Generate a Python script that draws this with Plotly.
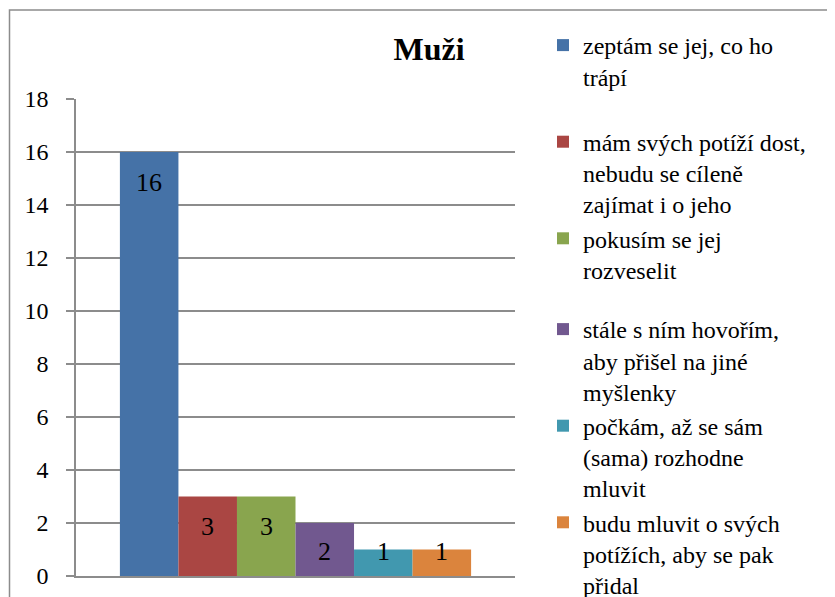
import plotly.graph_objects as go

categories = [
    "zeptám se jej, co ho<br>trápí",
    "mám svých potíží dost,<br>nebudu se cíleně<br>zajímat i o jeho",
    "pokusím se jej<br>rozveselit",
    "stále s ním hovořím,<br>aby přišel na jiné<br>myšlenky",
    "počkám, až se sám<br>(sama) rozhodne<br>mluvit",
    "budu mluvit o svých<br>potížích, aby se pak<br>přidal",
]
values = [16, 3, 3, 2, 1, 1]
colors = ["#4572A7", "#AA4643", "#89A54E", "#71588F", "#4198AF", "#DB843D"]
y_ticks = [0, 2, 4, 6, 8, 10, 12, 14, 16, 18]
title_text = "Muži"

FONT = "'Liberation Serif', 'Times New Roman', Times, serif"
W, H = 835, 597
OFF = 8  # page body margin offset
ML = 76 - OFF
MT = 99 - OFF
plot_w = 439
plot_h = 477
MR = W - ML - plot_w
MB = H - MT - plot_h
px_per_unit = plot_h / 18.0


def px_to_paper_x(px):
    return (px - OFF - ML) / plot_w


def px_to_paper_y(py):
    return (MT + plot_h - (py - OFF)) / plot_h


fig = go.Figure()
for i, (name, v, c) in enumerate(zip(categories, values, colors)):
    lines = name.count("<br>") + 1
    pad = 0 if i in (2, 5) else (3 - lines)
    label = name + "<br> " * pad
    fig.add_trace(go.Bar(
        x=[i], y=[v], width=1.0, name=label,
        marker=dict(color=c, line=dict(width=0)),
        legend="legend" if i < 3 else "legend2",
        hoverinfo="skip",
    ))
    # data label, "inside end" style like Excel
    shift = min(30, v * px_per_unit - 25)
    fig.add_annotation(
        x=i, y=v, yref="y", xref="x", text=str(v), showarrow=False,
        yshift=-shift, yanchor="middle",
        font=dict(family=FONT, size=26, color="#000000"),
    )

# outer chart border
fig.add_shape(
    type="rect", xref="paper", yref="paper",
    x0=px_to_paper_x(9.5), x1=px_to_paper_x(W + 20),
    y0=px_to_paper_y(H + 20), y1=px_to_paper_y(10),
    line=dict(color="#8c8c8c", width=1.5), fillcolor="rgba(0,0,0,0)",
    layer="below",
)

legend_common = dict(
    xanchor="left", yanchor="top", valign="top", traceorder="normal",
    font=dict(family=FONT, size=24, color="#000000"),
    bgcolor="rgba(0,0,0,0)", borderwidth=0,
)

fig.update_layout(
    template="none",
    width=W, height=H,
    margin=dict(l=ML, r=MR, t=MT, b=MB, autoexpand=False),
    paper_bgcolor="white", plot_bgcolor="white",
    barmode="overlay",
    title=dict(
        text=f"<b>{title_text}</b>", xref="paper", x=px_to_paper_x(429),
        xanchor="center", y=1 - (49 - OFF) / H, yanchor="middle",
        font=dict(family=FONT, size=32, color="#000000"),
    ),
    font=dict(family=FONT, color="#000000"),
    showlegend=True,
    legend=dict(x=px_to_paper_x(543), y=px_to_paper_y(23), **legend_common),
    legend2=dict(x=px_to_paper_x(543), y=px_to_paper_y(307), **legend_common),
    xaxis=dict(
        range=[-1.25, 6.25], showticklabels=False, showgrid=False,
        zeroline=False, showline=True, linecolor="#8c8c8c", linewidth=1.5,
        ticks="", fixedrange=True,
    ),
    yaxis=dict(
        range=[0, 18], tickvals=y_ticks, ticktext=[str(t) for t in y_ticks],
        showgrid=True, gridcolor="#8c8c8c", gridwidth=1.5,
        showline=True, linecolor="#8c8c8c", linewidth=1.5,
        ticks="outside", ticklen=8, tickcolor="#8c8c8c", tickwidth=1.5,
        zeroline=False, tickfont=dict(family=FONT, size=24, color="#000000"),
        ticklabelstandoff=13,
    ),
)

fig.write_html("out.html")
